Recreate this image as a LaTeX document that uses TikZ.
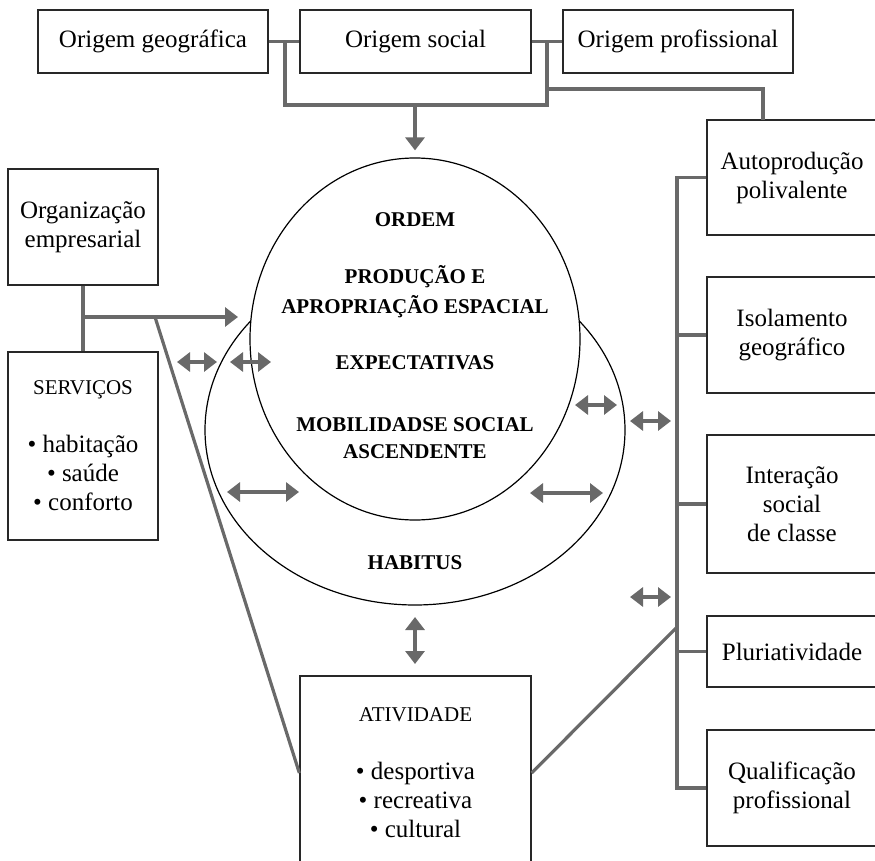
\documentclass[tikz,border=0pt]{standalone}
\usepackage{fontspec}
\setmainfont{Liberation Serif}
\usetikzlibrary{arrows.meta,shapes.geometric}
\definecolor{linkgray}{RGB}{105,105,105}
\definecolor{bordergray}{RGB}{40,40,40}
\begin{document}
\begin{tikzpicture}[x=1pt,y=-1pt,
  box/.style={draw=bordergray, line width=1.3pt, align=center, inner sep=0pt,
    font=\fontsize{25}{29}\selectfont},
  conn/.style={draw=linkgray, line width=3.2pt},
  arr/.style={conn, -{Triangle[length=13pt,width=19pt]}, fill=linkgray},
  darr/.style={conn, {Triangle[length=13pt,width=19pt]}-{Triangle[length=13pt,width=19pt]}},
  ctext/.style={font=\fontsize{21}{30}\selectfont\bfseries, align=center, inner sep=0pt},
  oval/.style={draw=black, line width=1.2pt, ellipse, inner sep=0pt}]
\useasboundingbox (0,0) rectangle (875,861);

% top boxes
\node[box, minimum width=230pt, minimum height=63pt] (geo) at (153,41.5) {Origem geográfica};
\node[box, minimum width=231pt, minimum height=63pt] (soc) at (415.5,41.5) {Origem social};
\node[box, minimum width=230pt, minimum height=63pt] (prof) at (678,41.5) {Origem profissional};

% left boxes
\node[box, minimum width=150pt, minimum height=116pt] (org) at (83,227) {Organização\\empresarial};
\node[box, minimum width=150pt, minimum height=188pt] (serv) at (83,446)
  {{\fontsize{21}{29}\selectfont SERVIÇOS}\\[29pt]\textbullet\ habitação\\\textbullet\ saúde\\\textbullet\ conforto};

% bottom box
\node[box, minimum width=231pt, minimum height=194pt] (ativ) at (415.5,773)
  {{\fontsize{21}{29}\selectfont ATIVIDADE}\\[29pt]\textbullet\ desportiva\\\textbullet\ recreativa\\\textbullet\ cultural};

% right boxes
\node[box, minimum width=170pt, minimum height=115pt] (auto) at (792,177.5) {Autoprodução\\polivalente};
\node[box, minimum width=170pt, minimum height=116pt] (iso) at (792,335) {Isolamento\\geográfico};
\node[box, minimum width=170pt, minimum height=138pt] (inter) at (792,504) {Interação\\social\\de classe};
\node[box, minimum width=170pt, minimum height=71pt] (pluri) at (792,651.5) {Pluriatividade};
\node[box, minimum width=170pt, minimum height=116pt] (qual) at (792,788) {Qualificação\\profissional};

% ovals
\node[oval, minimum width=420pt, minimum height=350pt] (habitus) at (415,430) {};
\node[oval, fill=white, minimum width=330pt, minimum height=362pt] (ordem) at (415,339) {};

% texts in ovals
\node[ctext] (t1) at (415,220) {ORDEM};
\node[ctext] (t2) at (415,292) {PRODUÇÃO E\\APROPRIAÇÃO ESPACIAL};
\node[ctext] (t3) at (415,363) {EXPECTATIVAS};
\node[ctext] (t4) at (415,438.5) {MOBILIDADSE SOCIAL\\[-3pt]ASCENDENTE};
\node[ctext] (t5) at (415,563) {HABITUS};

% top connectors
\coordinate (bl) at (285,41.5);
\coordinate (br) at (547,41.5);
\coordinate (bm) at (415,105);
\coordinate (bj) at (547,89);
\coordinate (ak) at (763,120);
\draw[conn] (geo.east) -- (soc.west);
\draw[conn] (soc.east) -- (prof.west);
\draw[conn] (bl) |- (bm) -| (br);
\draw[conn] (bj) -| (ak);
\draw[arr] (bm) -- ([yshift=7pt]ordem.north);

% left connectors
\coordinate (oj) at (83,317);
\coordinate (oa) at (238,317);
\coordinate (od) at (155,317);
\draw[conn] (org.south) -- (serv.north);
\draw[arr] (oj) -- (oa);
\draw[conn] (od) -- (ativ.west);

% right connectors
\coordinate (rtop) at (677,177.5);
\coordinate (rbot) at (677,788);
\coordinate (rd) at (677,627);
\draw[conn] (auto.west) -- (rtop) -- (rbot) -- (qual.west);
\draw[conn] (iso.west) -- (iso.west -| rtop);
\draw[conn] (inter.west) -- (inter.west -| rtop);
\draw[conn] (pluri.west) -- (pluri.west -| rtop);
\draw[conn] (ativ.east) -- (rd);

% double arrows
\coordinate (d1a) at (177,362); \coordinate (d1b) at (217,362);
\coordinate (d2a) at (230,362); \coordinate (d2b) at (271,362);
\coordinate (d3a) at (227,492); \coordinate (d3b) at (299,492);
\coordinate (d4a) at (575,405); \coordinate (d4b) at (617,405);
\coordinate (d5a) at (630,421); \coordinate (d5b) at (671,421);
\coordinate (d6a) at (530,493); \coordinate (d6b) at (603,493);
\coordinate (d7a) at (630,597); \coordinate (d7b) at (671,597);
\coordinate (d8a) at (415,617); \coordinate (d8b) at (415,664);
\draw[darr] (d1a) -- (d1b);
\draw[darr] (d2a) -- (d2b);
\draw[darr] (d3a) -- (d3b);
\draw[darr] (d4a) -- (d4b);
\draw[darr] (d5a) -- (d5b);
\draw[darr] (d6a) -- (d6b);
\draw[darr] (d7a) -- (d7b);
\draw[darr] (d8a) -- (d8b);
\end{tikzpicture}
\end{document}
